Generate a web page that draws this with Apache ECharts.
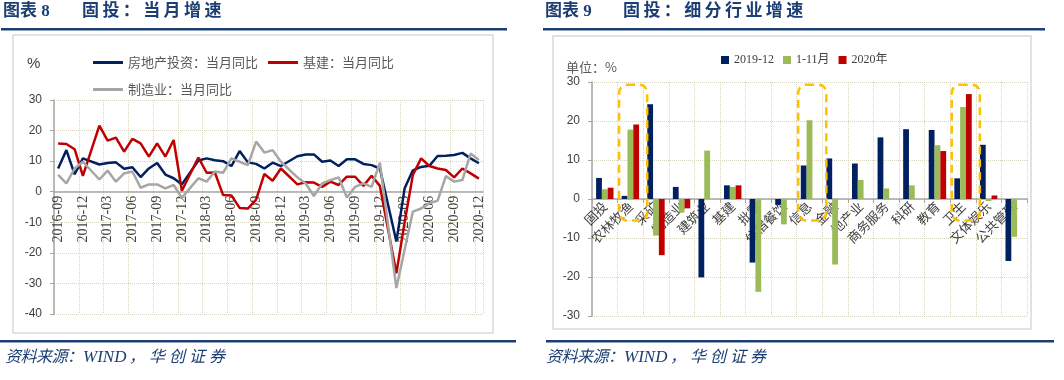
<!DOCTYPE html>
<html><head><meta charset="utf-8">
<script src="https://cdn.jsdelivr.net/npm/echarts@6/dist/echarts.min.js"></script>
<style>html,body{margin:0;padding:0;background:#fff}#c{width:1064px;height:380px}</style>
</head><body><div id="c"></div>
<script>
// ---------- Left chart data (monthly YoY, %) ----------
const months = [
 '2016-09','2016-10','2016-11','2016-12',
 '2017-01','2017-02','2017-03','2017-04','2017-05','2017-06','2017-07','2017-08','2017-09','2017-10','2017-11','2017-12',
 '2018-01','2018-02','2018-03','2018-04','2018-05','2018-06','2018-07','2018-08','2018-09','2018-10','2018-11','2018-12',
 '2019-01','2019-02','2019-03','2019-04','2019-05','2019-06','2019-07','2019-08','2019-09','2019-10','2019-11','2019-12',
 '2020-01','2020-02','2020-03','2020-04','2020-05','2020-06','2020-07','2020-08','2020-09','2020-10','2020-11','2020-12'
];
const realEstate = [7.6,13.6,5.7,10.9, null,8.9,9.4,9.6,7.5,8.0,4.8,7.6,9.4,5.6,4.4,2.4,
 null,10.2,10.9,10.3,10.0,8.4,13.3,9.6,9.1,7.6,9.5,8.4,
 null,11.6,12.2,12.2,9.8,10.2,8.4,10.6,10.6,9.1,8.7,7.6,
 null,-16.3,1.1,7.0,8.1,8.5,11.7,11.8,12.0,12.7,10.9,9.3];
const infrastructure = [15.8,15.6,13.9,5.2, null,21.6,16.7,17.7,13.1,17.3,15.8,11.5,15.8,11.5,16.9,0.3,
 null,11.2,6.2,6.3,-1.1,-1.2,-5.3,-5.5,-2.6,5.8,3.6,7.6,
 null,2.4,3.1,3.0,1.6,3.3,2.2,4.9,4.9,1.9,5.2,1.9,
 null,-26.7,-10.0,5.5,10.9,8.4,7.6,7.1,4.7,7.6,6.0,4.3];
const manufacturing = [5.5,2.7,7.6,9.8, null,4.0,6.9,3.3,6.0,6.6,1.3,2.4,2.4,1.1,2.2,-2.0,
 null,4.4,3.3,6.6,6.2,10.9,9.8,8.7,16.4,12.8,13.6,9.8,
 null,4.7,2.7,-1.4,2.7,3.8,4.7,-1.9,1.6,2.7,1.6,9.5,
 null,-31.5,-19.0,-6.5,-5.5,-3.8,-2.9,5.1,3.3,3.8,12.5,10.4];
const lineNames = ['房地产投资：当月同比','基建：当月同比','制造业：当月同比'];

// ---------- Right chart data (%) ----------
const sectors = ['固投','农林牧渔','采矿','制造业','建筑业','基建','批零','住宿餐饮','信息','金融','地产业','商务服务','科研','教育','卫生','文体娱乐','公共管理'];
const v2019_12 = [5.4,0.8,24.3,3.1,-20.1,3.5,-16.3,-1.5,8.6,10.4,9.1,15.8,17.9,17.7,5.3,13.9,-15.9];
const v1_11 = [2.5,17.8,-9.4,-3.5,12.4,3.1,-23.8,-6.5,20.2,-16.8,4.9,2.7,3.5,13.8,23.6,-0.5,-9.7];
const v2020 = [2.9,19.1,-14.4,-2.4,null,3.5,null,null,null,null,null,null,null,12.3,26.9,0.9,null];
const barNames = ['2019-12','1-11月','2020年'];
const highlighted = ['农林牧渔','信息','卫生'];

const NAVY='#002060', RED='#C00000', GRAY='#A6A6A6', GREEN='#9BBB59';
const BLUE='#1B3F73';
const GRID_C='#D9D5C3';
const cjk='"Noto Sans CJK SC", sans-serif';
const serif='"Liberation Serif", "Noto Sans CJK SC", serif';

const L = {left:54, top:100, width:429, height:214, min:-40, max:30};
const R = {left:592, top:82, width:435, height:234, min:-30, max:30};
// move the category axis (line + labels) up to the zero value of its value axis
const zeroOffset = g => -g.height * (0 - g.min) / (g.max - g.min);

const chart = echarts.init(document.getElementById('c'), null, {renderer:'canvas'});

function spaced(text, x, y, pitch, style){
  return text.split('').map((ch,k)=>({type:'text', x:x+k*pitch, y:y, z:10,
    style:Object.assign({text:ch, textVerticalAlign:'middle'}, style)}));
}
const titleStyle = {fill:BLUE, font:'bold 17px '+serif};
const srcStyle = {fill:BLUE, font:'italic 16px '+serif};
function source(x){
  return [
    ...spaced('资料来源：', x, 358, 15.5, srcStyle),
    {type:'text', x:x+78, y:358, style:{text:'WIND', fill:BLUE, font:'italic 17px '+serif, textVerticalAlign:'middle'}},
    ...spaced('，华创证券', x+124, 358, 20, srcStyle)
  ];
}

const graphics = [
  {type:'text', x:3, y:12, style:{text:'图表 8', fill:BLUE, font:'bold 17px '+serif, textVerticalAlign:'middle'}},
  ...spaced('固投：当月增速', 82, 12, 20.4, titleStyle),
  {type:'text', x:545, y:12, style:{text:'图表 9', fill:BLUE, font:'bold 17px '+serif, textVerticalAlign:'middle'}},
  ...spaced('固投：细分行业增速', 623, 12, 20.4, titleStyle),
  {type:'rect', shape:{x:1,y:28,width:506,height:2.5}, style:{fill:BLUE}},
  {type:'rect', shape:{x:543,y:28,width:502,height:2.5}, style:{fill:BLUE}},
  {type:'rect', shape:{x:13,y:35,width:480,height:298}, style:{fill:'none', stroke:'#D9D9D9', lineWidth:1.5}},
  {type:'rect', shape:{x:553,y:36,width:478,height:293}, style:{fill:'none', stroke:'#D9D9D9', lineWidth:1.5}},
  {type:'rect', shape:{x:0,y:340,width:516,height:2.5}, style:{fill:BLUE}},
  {type:'rect', shape:{x:546,y:340,width:508,height:2.5}, style:{fill:BLUE}},
  ...source(5),
  ...source(546),
  {type:'text', x:27, y:64, style:{text:'%', fill:'#404040', font:'15px "Liberation Sans", sans-serif', textVerticalAlign:'middle'}},
  {type:'text', x:566, y:67, style:{text:'单位：%', fill:'#595959', font:'13px '+cjk, textVerticalAlign:'middle'}}
];

const option = {
  animation:false,
  backgroundColor:'#fff',
  grid:[
    {left:L.left, top:L.top, width:L.width, height:L.height},
    {left:R.left, top:R.top, width:R.width, height:R.height}
  ],
  legend:[
    {left:88, top:51, itemWidth:30, itemHeight:3, itemGap:10, icon:'rect',
     data:[lineNames[0], lineNames[1]], textStyle:{fontFamily:cjk, fontSize:13, color:'#595959'}},
    {left:88, top:78, itemWidth:30, itemHeight:3, itemGap:10, icon:'rect',
     data:[lineNames[2]], textStyle:{fontFamily:cjk, fontSize:13, color:'#595959'}},
    {left:716, top:49, itemWidth:8, itemHeight:8, itemGap:9, icon:'rect',
     data:barNames, textStyle:{fontFamily:serif, fontSize:12, color:'#404040'}}
  ],
  xAxis:[
    {type:'category', gridIndex:0, data:months, boundaryGap:true, position:'bottom', offset:zeroOffset(L),
     axisLine:{onZero:false, lineStyle:{color:'#A6A6A6', width:1.5}},
     axisTick:{show:false, interval:2},
     axisLabel:{interval:2, rotate:90, margin:4, fontFamily:serif, fontSize:14, color:'#404040'},
     splitLine:{show:true, interval:2, lineStyle:{type:'dotted', color:GRID_C, width:1}}},
    {type:'category', gridIndex:1, data:sectors, boundaryGap:true, position:'bottom', offset:zeroOffset(R),
     axisLine:{onZero:false, lineStyle:{color:'#A6A6A6', width:1.5}},
     axisTick:{show:true, interval:0, length:4, lineStyle:{color:'#A6A6A6'}},
     axisLabel:{interval:0, rotate:45, margin:5, fontFamily:cjk, fontSize:13, color:'#404040'},
     splitLine:{show:true, interval:0, lineStyle:{type:'dotted', color:GRID_C, width:1}}}
  ],
  yAxis:[
    {type:'value', gridIndex:0, min:L.min, max:L.max, interval:10,
     axisLine:{show:true, lineStyle:{color:'#A6A6A6', width:1.5}},
     axisTick:{show:true, length:4, lineStyle:{color:'#A6A6A6'}},
     axisLabel:{margin:12, fontFamily:'"Liberation Sans", sans-serif', fontSize:12, color:'#404040'},
     splitLine:{show:true, lineStyle:{type:'dotted', color:GRID_C, width:1}}},
    {type:'value', gridIndex:1, min:R.min, max:R.max, interval:10,
     axisLine:{show:true, lineStyle:{color:'#A6A6A6', width:1.5}},
     axisTick:{show:true, length:4, lineStyle:{color:'#A6A6A6'}},
     axisLabel:{margin:12, fontFamily:'"Liberation Sans", sans-serif', fontSize:12, color:'#404040'},
     splitLine:{show:true, lineStyle:{type:'dotted', color:GRID_C, width:1}}}
  ],
  series:[
    {name:lineNames[0], type:'line', xAxisIndex:0, yAxisIndex:0, data:realEstate, connectNulls:true,
     showSymbol:false, lineStyle:{color:NAVY, width:2.5}, itemStyle:{color:NAVY}},
    {name:lineNames[1], type:'line', xAxisIndex:0, yAxisIndex:0, data:infrastructure, connectNulls:true,
     showSymbol:false, lineStyle:{color:RED, width:2.5}, itemStyle:{color:RED}},
    {name:lineNames[2], type:'line', xAxisIndex:0, yAxisIndex:0, data:manufacturing, connectNulls:true,
     showSymbol:false, lineStyle:{color:GRAY, width:2.5}, itemStyle:{color:GRAY}},
    {name:barNames[0], type:'bar', xAxisIndex:1, yAxisIndex:1, data:v2019_12, barWidth:5.8, barGap:'0%',
     itemStyle:{color:NAVY}},
    {name:barNames[1], type:'bar', xAxisIndex:1, yAxisIndex:1, data:v1_11, barWidth:5.8, barGap:'0%',
     itemStyle:{color:GREEN}},
    {name:barNames[2], type:'bar', xAxisIndex:1, yAxisIndex:1, data:v2020, barWidth:5.8, barGap:'0%',
     itemStyle:{color:RED}}
  ],
  graphic:graphics
};
chart.setOption(option);

// dashed highlight boxes around selected sectors, placed through the axis scales
const boxEls = highlighted.map(name=>{
  const i = sectors.indexOf(name);
  const c = chart.convertToPixel({xAxisIndex:1, yAxisIndex:1}, [i, 0]);
  const c2 = chart.convertToPixel({xAxisIndex:1, yAxisIndex:1}, [i+1, 0]);
  const band = c2[0]-c[0];
  const yTop = chart.convertToPixel({xAxisIndex:1, yAxisIndex:1}, [i, 29.3])[1];
  const yBot = chart.convertToPixel({xAxisIndex:1, yAxisIndex:1}, [i, -5.5])[1];
  const x0 = c[0]-band/2+1.5, x1 = c[0]+band/2+4;
  return {type:'rect', z:20, shape:{x:x0, y:yTop, width:x1-x0, height:yBot-yTop, r:8},
    style:{fill:'none', stroke:'#FFC000', lineWidth:2.5, lineDash:[8,5]}};
});
chart.setOption({graphic:graphics.concat(boxEls)});
</script>
</body></html>
